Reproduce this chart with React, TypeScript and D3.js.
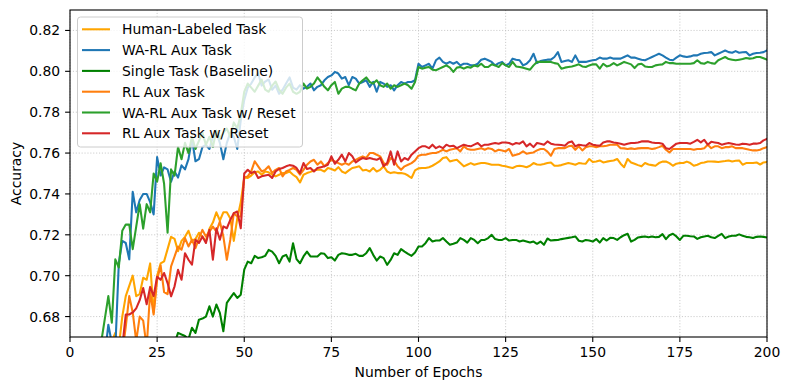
import React, { useEffect, useRef } from 'react';
import * as d3 from 'd3';

// accuracy per epoch (epoch 1..200)
const humanLabeled = [
  0.470, 0.510, 0.540, 0.565, 0.586, 0.604, 0.619, 0.632, 0.643, 0.652,
  0.660, 0.668, 0.672, 0.665, 0.680, 0.690, 0.695, 0.700, 0.690, 0.691,
  0.699, 0.698, 0.706, 0.682, 0.700, 0.706, 0.707, 0.713, 0.719, 0.718,
  0.712, 0.717, 0.719, 0.722, 0.717, 0.718, 0.721, 0.719, 0.717, 0.723,
  0.726, 0.731, 0.727, 0.731, 0.731, 0.728, 0.717, 0.728, 0.736, 0.748,
  0.7478, 0.749, 0.7506, 0.751, 0.7494, 0.751, 0.7506, 0.7494, 0.7486, 0.7494,
  0.7502, 0.7502, 0.751, 0.7494, 0.7482, 0.7456, 0.7494, 0.7502, 0.7508, 0.7515,
  0.7518, 0.7518, 0.751, 0.7527, 0.7522, 0.7515, 0.7531, 0.751, 0.7502, 0.7515,
  0.7527, 0.7531, 0.7535, 0.7515, 0.7518, 0.751, 0.7527, 0.751, 0.7518, 0.7535,
  0.751, 0.7502, 0.7506, 0.7502, 0.7502, 0.7499, 0.749, 0.7478, 0.7515, 0.7525,
  0.7527, 0.7527, 0.7531, 0.7538, 0.7548, 0.7559, 0.7576, 0.758, 0.7559, 0.7564,
  0.7567, 0.7551, 0.7535, 0.7543, 0.7551, 0.7543, 0.7548, 0.7551, 0.7551, 0.7548,
  0.7543, 0.7543, 0.7543, 0.7538, 0.7535, 0.7531, 0.7527, 0.7535, 0.7538, 0.7535,
  0.7531, 0.7538, 0.7551, 0.7544, 0.7543, 0.7546, 0.7551, 0.7554, 0.7538, 0.7538,
  0.7541, 0.7546, 0.7551, 0.7548, 0.7543, 0.7551, 0.7549, 0.7548, 0.7571, 0.7556,
  0.7559, 0.7564, 0.7554, 0.7558, 0.7561, 0.7564, 0.7571, 0.7548, 0.7531, 0.7571,
  0.7554, 0.7548, 0.7541, 0.7535, 0.7551, 0.7544, 0.7541, 0.7538, 0.7551, 0.7558,
  0.7559, 0.7551, 0.7538, 0.7548, 0.7551, 0.7551, 0.7558, 0.7551, 0.7538, 0.7543,
  0.7551, 0.7554, 0.7559, 0.7559, 0.7558, 0.7556, 0.7559, 0.7561, 0.7564, 0.7559,
  0.7562, 0.7564, 0.7543, 0.7551, 0.7551, 0.7551, 0.7554, 0.7544, 0.7554, 0.7556,
];

const waRlAux = [
  0.520, 0.556, 0.581, 0.600, 0.615, 0.627, 0.637, 0.646, 0.654, 0.661,
  0.676, 0.667, 0.664, 0.706, 0.717, 0.716, 0.708, 0.741, 0.731, 0.737,
  0.740, 0.740, 0.736, 0.730, 0.758, 0.749, 0.753, 0.752, 0.746, 0.751,
  0.748, 0.754, 0.752, 0.757, 0.767, 0.756, 0.757, 0.763, 0.764, 0.762,
  0.768, 0.770, 0.765, 0.757, 0.765, 0.770, 0.768, 0.762, 0.776, 0.786,
  0.792, 0.794, 0.797, 0.799, 0.793, 0.795, 0.796, 0.791, 0.793, 0.789,
  0.791, 0.794, 0.797, 0.792, 0.791, 0.7932, 0.7915, 0.7924, 0.794, 0.7907,
  0.7924, 0.7932, 0.7956, 0.7972, 0.798, 0.7997, 0.7989, 0.7964, 0.7972, 0.7932,
  0.7972, 0.7964, 0.794, 0.7948, 0.7956, 0.7924, 0.7948, 0.790, 0.7948, 0.794,
  0.7924, 0.7932, 0.7907, 0.7932, 0.7948, 0.794, 0.7948, 0.7948, 0.7956, 0.8037,
  0.8021, 0.8029, 0.8037, 0.8013, 0.8054, 0.8067, 0.8046, 0.8037, 0.8046, 0.8037,
  0.8046, 0.8029, 0.8037, 0.8037, 0.8029, 0.8029, 0.8037, 0.8057, 0.8062, 0.8054,
  0.8046, 0.8029, 0.804, 0.8046, 0.8029, 0.8037, 0.8062, 0.8057, 0.8054, 0.8029,
  0.8037, 0.8054, 0.8086, 0.804, 0.805, 0.8054, 0.8057, 0.8057, 0.807, 0.8094,
  0.8046, 0.805, 0.8054, 0.8046, 0.8078, 0.8046, 0.8046, 0.8046, 0.805, 0.8054,
  0.8057, 0.8067, 0.8062, 0.8062, 0.8067, 0.8062, 0.8062, 0.8062, 0.807, 0.8078,
  0.8067, 0.8067, 0.8062, 0.8057, 0.8054, 0.8062, 0.807, 0.8078, 0.8086, 0.8078,
  0.8067, 0.8057, 0.8054, 0.8067, 0.8078, 0.8073, 0.807, 0.8073, 0.8078, 0.8078,
  0.8086, 0.809, 0.8091, 0.8094, 0.8078, 0.8086, 0.8094, 0.8102, 0.8094, 0.8091,
  0.8099, 0.8091, 0.8093, 0.8094, 0.8078, 0.8086, 0.809, 0.8091, 0.8094, 0.8102,
];

const singleTask = [
  0.420, 0.455, 0.484, 0.508, 0.528, 0.545, 0.560, 0.573, 0.584, 0.594,
  0.603, 0.611, 0.618, 0.624, 0.630, 0.635, 0.639, 0.643, 0.647, 0.650,
  0.653, 0.655, 0.657, 0.659, 0.661, 0.662, 0.664, 0.665, 0.666, 0.667,
  0.672, 0.6712, 0.6705, 0.669, 0.6745, 0.672, 0.6785, 0.679, 0.680, 0.685,
  0.680, 0.6859, 0.6818, 0.6728, 0.6867, 0.6891, 0.6915, 0.6891, 0.6907, 0.703,
  0.7069, 0.7061, 0.7097, 0.7086, 0.709, 0.7097, 0.7126, 0.7118, 0.7097, 0.7061,
  0.7094, 0.7102, 0.7069, 0.7159, 0.7081, 0.7061, 0.7094, 0.7118, 0.7094, 0.7094,
  0.7094, 0.711, 0.7107, 0.7086, 0.709, 0.7074, 0.7102, 0.711, 0.7107, 0.7102,
  0.7102, 0.7107, 0.7097, 0.7097, 0.711, 0.7135, 0.7102, 0.7074, 0.7094, 0.7086,
  0.7053, 0.7077, 0.711, 0.7102, 0.713, 0.7118, 0.7107, 0.7097, 0.7113, 0.7143,
  0.7143, 0.7159, 0.7184, 0.7167, 0.7172, 0.7172, 0.7184, 0.7167, 0.7151, 0.7156,
  0.7162, 0.7184, 0.7175, 0.7162, 0.7184, 0.7175, 0.7159, 0.7175, 0.7175, 0.7184,
  0.720, 0.7179, 0.7175, 0.7175, 0.7184, 0.7172, 0.7175, 0.7175, 0.7167, 0.7172,
  0.7167, 0.7162, 0.7167, 0.7156, 0.7167, 0.7151, 0.7182, 0.7172, 0.7174, 0.7175,
  0.7179, 0.7182, 0.7185, 0.7188, 0.7192, 0.7171, 0.7167, 0.7175, 0.7172, 0.7167,
  0.7179, 0.7162, 0.7184, 0.7172, 0.7185, 0.7184, 0.7175, 0.7188, 0.7198, 0.7205,
  0.7167, 0.7175, 0.7187, 0.719, 0.7192, 0.7188, 0.7192, 0.7188, 0.719, 0.7203,
  0.7179, 0.7198, 0.7205, 0.7192, 0.7175, 0.7195, 0.7195, 0.7193, 0.7192, 0.718,
  0.7188, 0.7192, 0.7195, 0.7188, 0.7184, 0.7195, 0.7205, 0.7184, 0.7192, 0.7195,
  0.7195, 0.7202, 0.7195, 0.719, 0.7188, 0.7184, 0.719, 0.7192, 0.719, 0.7187,
];

const rlAux = [
  0.450, 0.490, 0.520, 0.545, 0.565, 0.582, 0.597, 0.610, 0.621, 0.631,
  0.639, 0.646, 0.652, 0.657, 0.662, 0.675, 0.690, 0.682, 0.668, 0.680,
  0.678, 0.665, 0.692, 0.681, 0.698, 0.705, 0.692, 0.691, 0.7046, 0.7094,
  0.7143, 0.7127, 0.7184, 0.7143, 0.7176, 0.7135, 0.7184, 0.7224, 0.7192, 0.7216,
  0.724, 0.7216, 0.7265, 0.7192, 0.7078, 0.7176, 0.7306, 0.729, 0.729, 0.748,
  0.7486, 0.751, 0.756, 0.7535, 0.751, 0.7518, 0.7535, 0.7502, 0.7518, 0.7527,
  0.7486, 0.751, 0.7518, 0.7527, 0.7518, 0.7494, 0.7518, 0.7543, 0.7559, 0.7567,
  0.7543, 0.7559, 0.7535, 0.7551, 0.7567, 0.7559, 0.7551, 0.7543, 0.7551, 0.7543,
  0.7559, 0.7567, 0.7576, 0.7584, 0.7576, 0.760, 0.760, 0.7592, 0.7584, 0.7551,
  0.7543, 0.7576, 0.7564, 0.7535, 0.7518, 0.7535, 0.7543, 0.7551, 0.7564, 0.7587,
  0.7592, 0.7592, 0.7597, 0.760, 0.760, 0.7607, 0.7616, 0.7608, 0.7616, 0.762,
  0.7624, 0.7608, 0.7633, 0.762, 0.7616, 0.7616, 0.762, 0.7624, 0.7616, 0.7624,
  0.762, 0.7608, 0.7616, 0.7613, 0.7608, 0.762, 0.7587, 0.7592, 0.7597, 0.7608,
  0.7597, 0.760, 0.7603, 0.7613, 0.762, 0.762, 0.7607, 0.7587, 0.762, 0.7624,
  0.7624, 0.7624, 0.7633, 0.7636, 0.7616, 0.7633, 0.7613, 0.7629, 0.7633, 0.7633,
  0.7629, 0.7633, 0.7633, 0.7636, 0.7641, 0.7641, 0.7641, 0.7624, 0.7623, 0.762,
  0.7623, 0.762, 0.7623, 0.7624, 0.7624, 0.7624, 0.762, 0.7623, 0.7629, 0.7636,
  0.7616, 0.7603, 0.762, 0.762, 0.762, 0.762, 0.762, 0.762, 0.7616, 0.762,
  0.762, 0.7624, 0.7641, 0.7624, 0.7633, 0.7633, 0.7624, 0.7629, 0.7629, 0.7633,
  0.7624, 0.7624, 0.7624, 0.762, 0.7616, 0.7613, 0.7613, 0.7616, 0.7624, 0.7629,
];

const waRlReset = [
  0.505, 0.540, 0.568, 0.590, 0.608, 0.623, 0.637, 0.650, 0.668, 0.679,
  0.690, 0.677, 0.708, 0.704, 0.722, 0.725, 0.725, 0.713, 0.724, 0.735,
  0.723, 0.735, 0.731, 0.750, 0.746, 0.755, 0.745, 0.721, 0.752, 0.749,
  0.763, 0.757, 0.765, 0.760, 0.768, 0.762, 0.766, 0.770, 0.764, 0.768,
  0.763, 0.771, 0.767, 0.770, 0.772, 0.768, 0.775, 0.772, 0.779, 0.790,
  0.794, 0.792, 0.790, 0.793, 0.796, 0.791, 0.790, 0.793, 0.795, 0.791,
  0.789, 0.792, 0.794, 0.790, 0.789, 0.790, 0.794, 0.7915, 0.7924, 0.794,
  0.797, 0.7948, 0.7924, 0.7907, 0.7932, 0.7948, 0.789, 0.7915, 0.7924, 0.7924,
  0.7915, 0.7907, 0.794, 0.7956, 0.797, 0.7948, 0.794, 0.7956, 0.7932, 0.7924,
  0.794, 0.7915, 0.7932, 0.7924, 0.7932, 0.794, 0.7932, 0.7915, 0.7948, 0.8021,
  0.8013, 0.8018, 0.8021, 0.8008, 0.8005, 0.8013, 0.8021, 0.8029, 0.8018, 0.7997,
  0.8018, 0.8021, 0.8013, 0.8021, 0.8018, 0.8029, 0.8024, 0.8037, 0.8021, 0.8021,
  0.8034, 0.8029, 0.8021, 0.804, 0.8029, 0.8021, 0.8046, 0.8024, 0.8021, 0.8018,
  0.8013, 0.8008, 0.8029, 0.8046, 0.8046, 0.8046, 0.8046, 0.8046, 0.804, 0.8037,
  0.8013, 0.8018, 0.8021, 0.8024, 0.8029, 0.8034, 0.8024, 0.8021, 0.8029, 0.8034,
  0.8034, 0.8013, 0.8037, 0.8024, 0.8029, 0.804, 0.8029, 0.8037, 0.8046, 0.804,
  0.8034, 0.8016, 0.8034, 0.8037, 0.8024, 0.8021, 0.8021, 0.8029, 0.8032, 0.8034,
  0.8046, 0.804, 0.804, 0.8037, 0.8037, 0.8037, 0.8037, 0.8037, 0.804, 0.8054,
  0.804, 0.8037, 0.8046, 0.804, 0.8037, 0.8054, 0.8062, 0.807, 0.806, 0.8057,
  0.8054, 0.8057, 0.806, 0.8065, 0.8062, 0.8064, 0.807, 0.807, 0.8064, 0.8057,
];

const rlReset = [
  0.440, 0.480, 0.512, 0.538, 0.559, 0.577, 0.592, 0.605, 0.617, 0.627,
  0.636, 0.643, 0.650, 0.656, 0.665, 0.681, 0.681, 0.682, 0.684, 0.688,
  0.694, 0.686, 0.6945, 0.690, 0.6995, 0.698, 0.7013, 0.6964, 0.6899, 0.6948,
  0.7029, 0.698, 0.711, 0.7078, 0.7054, 0.7176, 0.716, 0.7192, 0.716, 0.7224,
  0.7078, 0.7232, 0.7176, 0.7241, 0.7232, 0.7273, 0.7306, 0.7314, 0.7232, 0.750,
  0.7518, 0.7502, 0.751, 0.7478, 0.7486, 0.749, 0.7494, 0.7478, 0.751, 0.7522,
  0.7527, 0.7535, 0.7541, 0.7538, 0.7527, 0.7502, 0.7551, 0.7522, 0.7527, 0.751,
  0.7527, 0.7531, 0.7535, 0.7543, 0.7584, 0.7548, 0.7567, 0.7592, 0.7559, 0.760,
  0.7584, 0.7554, 0.7567, 0.7576, 0.7571, 0.7576, 0.7571, 0.7567, 0.7576, 0.7535,
  0.7551, 0.7608, 0.7543, 0.7608, 0.7559, 0.7576, 0.7567, 0.7592, 0.7608, 0.7624,
  0.7633, 0.7633, 0.7624, 0.7641, 0.7624, 0.7633, 0.7624, 0.7641, 0.7633, 0.7636,
  0.7624, 0.7633, 0.7641, 0.7636, 0.7633, 0.7641, 0.7649, 0.7633, 0.7641, 0.7641,
  0.7646, 0.7649, 0.7646, 0.7652, 0.7652, 0.7649, 0.7641, 0.7649, 0.7646, 0.7657,
  0.7633, 0.7646, 0.7629, 0.7649, 0.7646, 0.7641, 0.7657, 0.7646, 0.7642, 0.7641,
  0.7639, 0.7636, 0.7652, 0.7657, 0.7633, 0.7641, 0.7638, 0.7636, 0.7649, 0.7641,
  0.7638, 0.7636, 0.7652, 0.7657, 0.7657, 0.7652, 0.7649, 0.7646, 0.7641, 0.7646,
  0.7649, 0.7649, 0.7652, 0.7657, 0.7657, 0.7657, 0.7652, 0.7649, 0.7649, 0.7646,
  0.7624, 0.762, 0.7633, 0.7646, 0.7649, 0.7649, 0.7649, 0.7646, 0.7655, 0.7665,
  0.7652, 0.7665, 0.7641, 0.7655, 0.7652, 0.7649, 0.7641, 0.7646, 0.7649, 0.7646,
  0.7642, 0.7641, 0.7646, 0.7644, 0.7641, 0.7646, 0.7646, 0.7649, 0.7662, 0.7669,
];

const seriesLabels = [
  'Human-Labeled Task',
  'WA-RL Aux Task',
  'Single Task (Baseline)',
  'RL Aux Task',
  'WA-RL Aux Task w/ Reset',
  'RL Aux Task w/ Reset',
];
const seriesValues = [humanLabeled, waRlAux, singleTask, rlAux, waRlReset, rlReset];
const seriesColors = ['#ffa500', '#1f77b4', '#008000', '#ff7f0e', '#2ca02c', '#d62728'];

const xTicks = [0, 25, 50, 75, 100, 125, 150, 175, 200];
const yTicks = [0.68, 0.70, 0.72, 0.74, 0.76, 0.78, 0.80, 0.82];

const W = 790;
const H = 390;
const FONT = 'DejaVu Sans, sans-serif';
const FS = 13.9;

export default function App() {
  const ref = useRef<SVGSVGElement | null>(null);

  useEffect(() => {
    const svg = d3.select(ref.current);
    svg.selectAll('*').remove();

    const left = 70, right = 767, top = 10, bottom = 337;
    const x = d3.scaleLinear().domain([0, 200]).range([left, right]);
    const y = d3.scaleLinear().domain([0.67, 0.83]).range([bottom, top]);

    svg.append('rect').attr('width', W).attr('height', H).attr('fill', '#fff');

    svg.append('clipPath').attr('id', 'plot-clip')
      .append('rect')
        .attr('x', left).attr('y', top)
        .attr('width', right - left).attr('height', bottom - top);

    // dotted grid
    const grid = svg.append('g')
      .attr('stroke', '#b0b0b0')
      .attr('stroke-width', 0.8)
      .attr('stroke-dasharray', '1.1,1.8')
      .attr('opacity', 0.8);
    xTicks.forEach((t) => {
      grid.append('line')
        .attr('x1', x(t)).attr('x2', x(t)).attr('y1', top).attr('y2', bottom);
    });
    yTicks.forEach((t) => {
      grid.append('line')
        .attr('x1', left).attr('x2', right).attr('y1', y(t)).attr('y2', y(t));
    });

    const line = d3.line<number>()
      .x((d, i) => x(i + 1))
      .y((d) => y(d));

    const plot = svg.append('g').attr('clip-path', 'url(#plot-clip)');
    seriesValues.forEach((vals, k) => {
      plot.append('path')
        .datum(vals)
        .attr('d', line)
        .attr('fill', 'none')
        .attr('stroke', seriesColors[k])
        .attr('stroke-width', 2.08)
        .attr('stroke-linejoin', 'round')
        .attr('stroke-linecap', 'square');
    });

    // spines
    svg.append('rect')
      .attr('x', left).attr('y', top)
      .attr('width', right - left).attr('height', bottom - top)
      .attr('fill', 'none').attr('stroke', '#000').attr('stroke-width', 1.1);

    const tickLen = 4.9;
    const axisG = svg.append('g')
      .attr('font-family', FONT).attr('font-size', FS).attr('fill', '#000');

    xTicks.forEach((t) => {
      axisG.append('line')
        .attr('x1', x(t)).attr('x2', x(t))
        .attr('y1', bottom).attr('y2', bottom + tickLen)
        .attr('stroke', '#000').attr('stroke-width', 1.1);
      axisG.append('text')
        .attr('x', x(t)).attr('y', bottom + tickLen + 15.4)
        .attr('text-anchor', 'middle')
        .text(String(t));
    });
    yTicks.forEach((t) => {
      axisG.append('line')
        .attr('x1', left - tickLen).attr('x2', left)
        .attr('y1', y(t)).attr('y2', y(t))
        .attr('stroke', '#000').attr('stroke-width', 1.1);
      axisG.append('text')
        .attr('x', left - tickLen - 4.9).attr('y', y(t) + 5)
        .attr('text-anchor', 'end')
        .text(t.toFixed(2));
    });

    axisG.append('text')
      .attr('x', (left + right) / 2).attr('y', 377)
      .attr('text-anchor', 'middle')
      .text('Number of Epochs');
    axisG.append('text')
      .attr('transform', `translate(21, ${(top + bottom) / 2}) rotate(-90)`)
      .attr('text-anchor', 'middle')
      .text('Accuracy');

    // legend, upper left
    const lg = svg.append('g').attr('font-family', FONT).attr('font-size', FS);
    lg.append('rect')
      .attr('x', 77.5).attr('y', 17)
      .attr('width', 225).attr('height', 130)
      .attr('rx', 3)
      .attr('fill', '#fff').attr('fill-opacity', 0.8)
      .attr('stroke', '#cccccc').attr('stroke-width', 1);
    seriesLabels.forEach((label, k) => {
      const cy = 29.3 + k * 20.8;
      lg.append('line')
        .attr('x1', 82).attr('x2', 110)
        .attr('y1', cy).attr('y2', cy)
        .attr('stroke', seriesColors[k]).attr('stroke-width', 2.08);
      lg.append('text')
        .attr('x', 122).attr('y', cy + 5)
        .attr('fill', '#000')
        .text(label);
    });
  }, []);

  return (
    <div style={{ position: 'absolute', left: 0, top: 0 }}>
      <svg ref={ref} width={W} height={H} style={{ display: 'block' }} />
    </div>
  );
}
